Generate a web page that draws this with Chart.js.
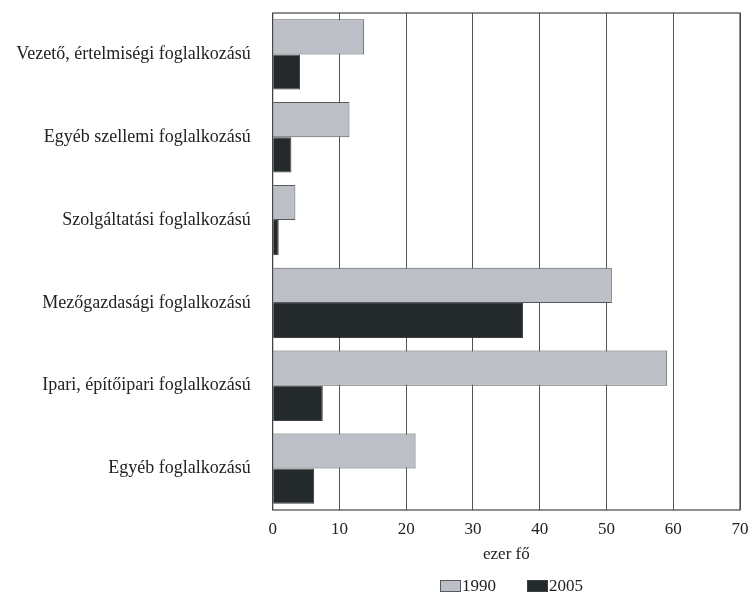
<!DOCTYPE html>
<html><head><meta charset="utf-8">
<script src="https://cdn.jsdelivr.net/npm/chart.js@4/dist/chart.umd.min.js"></script>
<style>html,body{margin:0;padding:0;background:#fff}#w{width:750px;height:594px}</style>
</head><body><div id="w"><canvas id="c"></canvas></div>
<script>
const categories = ["Vezető, értelmiségi foglalkozású","Egyéb szellemi foglalkozású","Szolgáltatási foglalkozású","Mezőgazdasági foglalkozású","Ipari, építőipari foglalkozású","Egyéb foglalkozású"];
const series1990 = [13.7, 11.5, 3.4, 50.8, 59.1, 21.4];
const series2005 = [4.1, 2.8, 0.9, 37.5, 7.5, 6.2];
const seriesNames = ["1990","2005"];
const xTicks = [0,10,20,30,40,50,60,70];
const xTitle = "ezer fő";

const FONT = "'Liberation Serif', 'Times New Roman', serif";
const frame = {
  id:'frame',
  afterDraw(chart){
    const {ctx, chartArea:a} = chart;
    ctx.save();
    ctx.strokeStyle = '#444'; ctx.lineWidth = 1.2;
    ctx.strokeRect(a.left, a.top, a.right-a.left, a.bottom-a.top);
    const ds = chart.data.datasets;
    ctx.font = "17px " + FONT;
    ctx.textBaseline = 'middle';
    const y = 586;
    const starts = [440, 527];
    ds.forEach((d,i)=>{
      const x = starts[i];
      ctx.fillStyle = d.backgroundColor; ctx.fillRect(x, y-6, 21, 12);
      ctx.strokeStyle = d.borderColor; ctx.lineWidth = 1; ctx.strokeRect(x+0.5, y-5.5, 20, 11);
      ctx.fillStyle = '#222'; ctx.textAlign='left';
      ctx.fillText(d.label, x+22, y+1);
    });
    ctx.restore();
  }
};
new Chart(document.getElementById('c'), {
  type:'bar',
  data:{labels:categories, datasets:[
    {label:seriesNames[0], data:series1990, backgroundColor:'#bcc0c6', borderColor:'#55595c', borderWidth:1, categoryPercentage:0.85, barPercentage:1.0},
    {label:seriesNames[1], data:series2005, backgroundColor:'#24292b', borderColor:'#3a3f42', borderWidth:1, categoryPercentage:0.85, barPercentage:1.0}
  ]},
  options:{
    indexAxis:'y', responsive:true, maintainAspectRatio:false, animation:false,
    layout:{padding:{left:0, right:10, top:13, bottom:24}},
    plugins:{legend:{display:false}, tooltip:{enabled:false}},
    scales:{
      x:{min:0,max:70, afterBuildTicks(s){ s.ticks = xTicks.map(v=>({value:v})); },
        grid:{color:'#555', lineWidth:1, drawTicks:false},
        border:{display:false},
        ticks:{font:{family:FONT,size:17}, color:'#222', padding:9},
        title:{display:true, text:xTitle, font:{family:FONT,size:17}, color:'#222', padding:{top:0,bottom:5}},
        afterFit(s){ s.height = 60; s.paddingLeft = 0; s.paddingRight = 0; }
      },
      y:{grid:{display:false}, border:{display:false},
        ticks:{font:{family:FONT,size:18}, color:'#222', padding:14},
        afterFit(s){ s.width = 272.7; s.paddingTop = 0; s.paddingBottom = 0; }
      }
    }
  },
  plugins:[frame]
});
</script></body></html>
